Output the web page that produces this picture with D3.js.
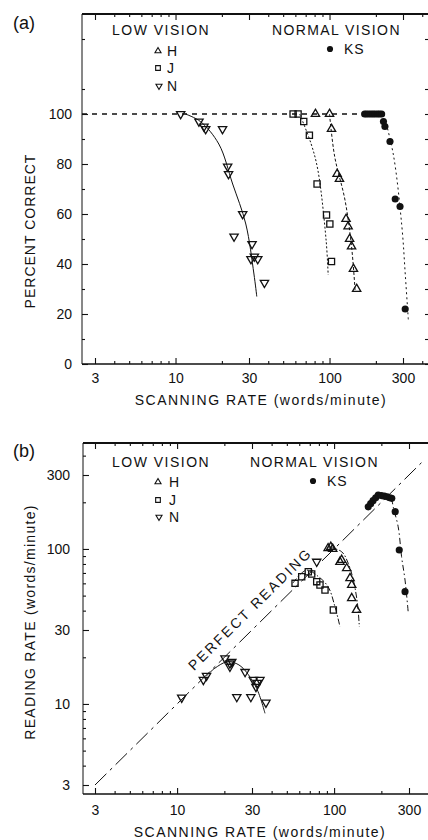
<!DOCTYPE html>
<html>
<head>
<meta charset="utf-8">
<script src="https://cdn.jsdelivr.net/npm/d3@7"></script>
<style>
  html, body { margin: 0; padding: 0; background: #fff; }
  svg { display: block; }
  text { font-family: "Liberation Sans", Arial, Helvetica, sans-serif; fill: #111; }
</style>
</head>
<body>
<svg id="fig" width="428" height="840"></svg>
<script>
// ---------- tick values ----------
const logMajorTicks = [3, 10, 30, 100, 300];
const logMinorTicks = [4, 5, 6, 7, 8, 9, 20, 40, 50, 60, 70, 80, 90, 200, 400];
const pctMajorTicks = [0, 20, 40, 60, 80, 100];
const pctMinorTicks = [10, 30, 50, 70, 90, 110, 130];

// ---------- panel (a): percent correct vs scanning rate (words/min) ----------
const aH_rate  = [81, 100, 103, 112, 116, 128, 132, 135, 139, 143, 150];
const aH_pct   = [100, 100, 94, 76, 74, 58, 55, 50, 47, 38, 30];
const aJ_rate  = [58, 62.5, 68, 74, 83, 95.6, 100.5, 103];
const aJ_pct   = [100, 100, 97, 91.5, 72, 59.6, 56, 41];
const aN_rate  = [10.8, 14.2, 15.3, 15.7, 20.2, 21.8, 22.1, 27.3, 24.0, 31.4, 30.9, 34.2, 32.5, 37.8];
const aN_pct   = [100, 97, 95, 94, 94, 79, 76, 60, 51, 48, 42, 42, 43, 32.5];
const aKS_rate = [169, 174, 180, 186, 192, 198, 205, 211, 218, 224, 229, 247, 267, 287, 310];
const aKS_pct  = [100, 100, 100, 100, 100, 100, 100, 100, 100, 97, 95, 89, 66, 63, 22];

// fitted curves, panel (a)
const aH_fitRate  = [100, 108, 126, 139, 146.5];
const aH_fitPct   = [100, 83, 65.6, 47, 29.6];
const aJ_fitRate  = [64, 76, 84, 95, 98];
const aJ_fitPct   = [100, 88, 77.6, 49.6, 35.6];
const aN_fitRate  = [11.6, 14.5, 19.1, 23.5, 28.6, 32.3, 33.7];
const aN_fitPct   = [100, 97, 88, 72, 56, 36, 27];
const aKS_fitRate = [225, 260, 295, 311, 325];
const aKS_fitPct  = [100, 83.6, 55, 35, 17.6];
const aCeilingEnd = 165;   // 100% reference runs up to here

// ---------- panel (b): reading rate vs scanning rate (words/min) ----------
const bH_rate  = [91.6, 95.3, 98, 109, 111.7, 120.3, 126.3, 129.5, 129.5, 139];
const bH_read  = [101, 103, 100, 82.5, 84.9, 75, 64.8, 58.5, 48.1, 40.4];
const bJ_rate  = [56.4, 62.2, 68.5, 72, 77.5, 81.3, 87.5, 98.9];
const bJ_read  = [60.0, 66.2, 71.3, 68.9, 61.5, 58.5, 54.3, 40.4];
const bN_rate  = [10.7, 14.7, 15.4, 20.2, 21.7, 21.7, 22.3, 27.1, 24.0, 29.5, 30.6, 32.4, 33.7, 31.8, 36.8, 77.5];
const bN_read  = [11.0, 14.3, 15.2, 19.7, 18.3, 17.4, 18.7, 16.1, 11.1, 11.1, 14.3, 13.7, 14.3, 12.9, 10.2, 82.8];
const bKS_rate = [165, 171, 177, 184, 191, 200, 209, 218, 226, 233, 245, 260, 283];
const bKS_read = [187, 196, 205, 214, 223, 221, 219, 217, 214, 212, 174, 98.5, 53];

// fitted curves, panel (b)
const bH_fitRate  = [91.6, 111.7, 123, 132.6, 140.8, 144.8];
const bH_fitRead  = [103, 96, 80.8, 63, 44.6, 31.5];
const bJ_fitRate  = [54.6, 66.7, 78.9, 91.6, 101.3, 109];
const bJ_fitRead  = [60.2, 73.0, 66.7, 57.0, 42.4, 31.5];
const bN_fitRate  = [15.4, 17.4, 20.7, 23.3, 26.3, 32.1, 36.3];
const bN_fitRead  = [15.2, 17.0, 18.7, 18.4, 17.0, 12.6, 8.7];
const bKS_fitRate = [233, 238, 256, 269, 283, 297];
const bKS_fitRead = [212, 187, 139, 89.2, 63, 38.4];
const perfectRate = [3, 360];   // reading rate = scanning rate

const zip = (xs, ys) => xs.map((v, i) => [v, ys[i]]);

// ---------- drawing ----------
const svg = d3.select("#fig");
const INK = "#111";

const symTri = d3.symbol().type(d3.symbolTriangle);
const symSq  = d3.symbol().type(d3.symbolSquare);
const symDot = d3.symbol().type(d3.symbolCircle);

function markers(g, pts, x, y, kind, size) {
  const sel = g.append("g").selectAll("path").data(pts).join("path")
    .attr("stroke", INK).attr("stroke-width", 1.3);
  if (kind === "up") {
    sel.attr("d", symTri.size(size || 30)()).attr("fill", "none")
       .attr("transform", d => `translate(${x(d[0])},${y(d[1])})`);
  } else if (kind === "down") {
    sel.attr("d", symTri.size(size || 30)()).attr("fill", "none")
       .attr("transform", d => `translate(${x(d[0])},${y(d[1])}) rotate(180)`);
  } else if (kind === "square") {
    sel.attr("d", symSq.size(size || 38)()).attr("fill", "none")
       .attr("transform", d => `translate(${x(d[0])},${y(d[1])})`);
  } else {
    sel.attr("d", symDot.size(size || 40)()).attr("fill", INK).attr("stroke", "none")
       .attr("transform", d => `translate(${x(d[0])},${y(d[1])})`);
  }
}

const smooth = d3.curveCatmullRom.alpha(0.5);

function curve(g, pts, x, y, dash) {
  const line = d3.line().x(d => x(d[0])).y(d => y(d[1])).curve(smooth);
  g.append("path").datum(pts).attr("d", line)
    .attr("fill", "none").attr("stroke", INK).attr("stroke-width", 1)
    .attr("stroke-dasharray", dash || null);
}

function styleAxis(g, fontSize) {
  g.select(".domain").remove();
  g.selectAll(".tick line").attr("stroke", INK).attr("stroke-width", 1.1);
  g.selectAll("text").attr("font-size", fontSize || 14)
    .attr("font-family", '"Liberation Sans", Arial, sans-serif').attr("fill", INK);
  g.attr("font-family", null).attr("font-size", null);
}

function frame(g, box, x, y, xPad, yPad, yMajor, yMinor, yFmt, rightAxis) {
  // bottom axis with inward ticks
  g.append("g").attr("transform", `translate(0,${box.bottom})`)
    .call(d3.axisBottom(x).tickValues(logMajorTicks).tickSize(-6).tickPadding(xPad).tickFormat(d => String(d)))
    .call(a => styleAxis(a));
  g.append("g").attr("transform", `translate(0,${box.bottom})`)
    .call(d3.axisBottom(x).tickValues(logMinorTicks).tickSize(-3).tickFormat(""))
    .call(a => styleAxis(a));
  // top mirror
  g.append("g").attr("transform", `translate(0,${box.top})`)
    .call(d3.axisTop(x).tickValues(logMajorTicks).tickSize(-6).tickFormat(""))
    .call(a => styleAxis(a));
  g.append("g").attr("transform", `translate(0,${box.top})`)
    .call(d3.axisTop(x).tickValues(logMinorTicks).tickSize(-3).tickFormat(""))
    .call(a => styleAxis(a));
  // left axis
  g.append("g").attr("transform", `translate(${box.left},0)`)
    .call(d3.axisLeft(y).tickValues(yMajor).tickSize(-6).tickPadding(yPad).tickFormat(yFmt))
    .call(a => styleAxis(a));
  g.append("g").attr("transform", `translate(${box.left},0)`)
    .call(d3.axisLeft(y).tickValues(yMinor).tickSize(-3).tickFormat(""))
    .call(a => styleAxis(a));
  if (rightAxis) {
    g.append("g").attr("transform", `translate(${box.right},0)`)
      .call(d3.axisRight(y).tickValues(yMajor.concat(yMinor)).tickSize(-4).tickFormat(""))
      .call(a => styleAxis(a));
  }
  // frame lines
  g.append("line").attr("x1", box.left).attr("x2", box.left).attr("y1", box.top).attr("y2", box.bottom)
    .attr("stroke", INK).attr("stroke-width", 1);
  g.append("line").attr("x1", box.left).attr("x2", box.right).attr("y1", box.bottom).attr("y2", box.bottom)
    .attr("stroke", INK).attr("stroke-width", 1.4);
  g.append("line").attr("x1", box.left).attr("x2", box.right).attr("y1", box.top).attr("y2", box.top)
    .attr("stroke", INK).attr("stroke-width", 2);
}

function legend(g, pos) {
  const t = (x, y, s, extra) => g.append("text").attr("x", x).attr("y", y)
    .attr("font-size", 14).attr("letter-spacing", extra || 0).text(s);
  t(112, pos.head, "LOW VISION", "1.5px");
  t(pos.normalX, pos.head, "NORMAL VISION", "1.4px");
  g.append("path").attr("d", symTri.size(16)()).attr("fill", "none").attr("stroke", INK).attr("stroke-width", 1.1)
    .attr("transform", `translate(158,${pos.rows[0] - 5})`);
  g.append("path").attr("d", symSq.size(22)()).attr("fill", "none").attr("stroke", INK).attr("stroke-width", 1.1)
    .attr("transform", `translate(158,${pos.rows[1] - 5})`);
  g.append("path").attr("d", symTri.size(16)()).attr("fill", "none").attr("stroke", INK).attr("stroke-width", 1.1)
    .attr("transform", `translate(159,${pos.rows[2] - 5}) rotate(180)`);
  t(pos.textX, pos.rows[0], "H");
  t(pos.textX, pos.rows[1], "J");
  t(pos.textX, pos.rows[2], "N");
  g.append("path").attr("d", symDot.size(30)()).attr("fill", INK)
    .attr("transform", `translate(${pos.ksX},${pos.ksY - 5})`);
  t(pos.ksX + 14, pos.ksY, "KS", "1px");
}

// ===== panel (a) =====
const boxA = { left: 82, right: 429, top: 14, bottom: 364 };
const xA = d3.scaleLog().domain([3, 300]).range([95, 403]);
const yA = d3.scaleLinear().domain([0, 100]).range([364, 114]);
const gA = svg.append("g");

frame(gA, boxA, xA, yA, 9, 10, pctMajorTicks, pctMinorTicks, d => String(d), true);

// 100% ceiling
gA.append("line")
  .attr("x1", boxA.left).attr("x2", xA(aCeilingEnd))
  .attr("y1", yA(100)).attr("y2", yA(100))
  .attr("stroke", INK).attr("stroke-width", 1.3).attr("stroke-dasharray", "5,5");

curve(gA, zip(aN_fitRate, aN_fitPct), xA, yA, null);
curve(gA, zip(aJ_fitRate, aJ_fitPct), xA, yA, "2,2");
curve(gA, zip(aH_fitRate, aH_fitPct), xA, yA, "3,2");
curve(gA, zip(aKS_fitRate, aKS_fitPct), xA, yA, "2,3");

markers(gA, zip(aN_rate, aN_pct), xA, yA, "down");
markers(gA, zip(aJ_rate, aJ_pct), xA, yA, "square");
markers(gA, zip(aH_rate, aH_pct), xA, yA, "up");
markers(gA, zip(aKS_rate, aKS_pct), xA, yA, "dot");

legend(gA, { head: 35, normalX: 272, rows: [56, 73, 91], textX: 167, ksX: 330, ksY: 54 });

gA.append("text").attr("x", 13).attr("y", 29).attr("font-size", 18).text("(a)");
gA.append("text").attr("x", 261).attr("y", 405).attr("text-anchor", "middle")
  .attr("font-size", 14).attr("letter-spacing", "1.5px").text("SCANNING RATE (words/minute)");
gA.append("text").attr("transform", "translate(35,231) rotate(-90)").attr("text-anchor", "middle")
  .attr("font-size", 14).attr("letter-spacing", "1px").text("PERCENT CORRECT");

// ===== panel (b) =====
const boxB = { left: 83, right: 429, top: 443, bottom: 794 };
const xB = d3.scaleLog().domain([3, 300]).range([95, 409]);
const yB = d3.scaleLog().domain([3, 300]).range([785, 475]);
const gB = svg.append("g");

frame(gB, boxB, xB, yB, 11, 13, logMajorTicks, logMinorTicks, d => String(d), false);

// perfect reading diagonal
gB.append("path").datum(perfectRate.map(v => [v, v]))
  .attr("d", d3.line().x(d => xB(d[0])).y(d => yB(d[1])))
  .attr("fill", "none").attr("stroke", INK).attr("stroke-width", 1)
  .attr("stroke-dasharray", "16,5,3,5");
gB.append("text")
  .attr("transform", `translate(${xB(30) + 1.5},${yB(30) - 17.5}) rotate(-44.6)`)
  .attr("text-anchor", "middle").attr("font-size", 14).attr("letter-spacing", "2.3px")
  .text("PERFECT READING");

curve(gB, zip(bN_fitRate, bN_fitRead), xB, yB, null);
curve(gB, zip(bJ_fitRate, bJ_fitRead), xB, yB, "6,2,1.5,2");
curve(gB, zip(bH_fitRate, bH_fitRead), xB, yB, "6,2,1.5,2");
curve(gB, zip(bKS_fitRate, bKS_fitRead), xB, yB, "6,3,1.5,3");

markers(gB, zip(bN_rate, bN_read), xB, yB, "down");
markers(gB, zip(bJ_rate, bJ_read), xB, yB, "square");
markers(gB, zip(bH_rate, bH_read), xB, yB, "up");
markers(gB, zip(bKS_rate, bKS_read), xB, yB, "dot");

legend(gB, { head: 467, normalX: 250, rows: [487, 505, 522], textX: 169, ksX: 313, ksY: 486 });

gB.append("text").attr("x", 13).attr("y", 457).attr("font-size", 18).text("(b)");
gB.append("text").attr("x", 260).attr("y", 837).attr("text-anchor", "middle")
  .attr("font-size", 14).attr("letter-spacing", "1.5px").text("SCANNING RATE (words/minute)");
gB.append("text").attr("transform", "translate(35,622) rotate(-90)").attr("text-anchor", "middle")
  .attr("font-size", 14).attr("letter-spacing", "1.3px").text("READING RATE (words/minute)");
</script>
</body>
</html>
